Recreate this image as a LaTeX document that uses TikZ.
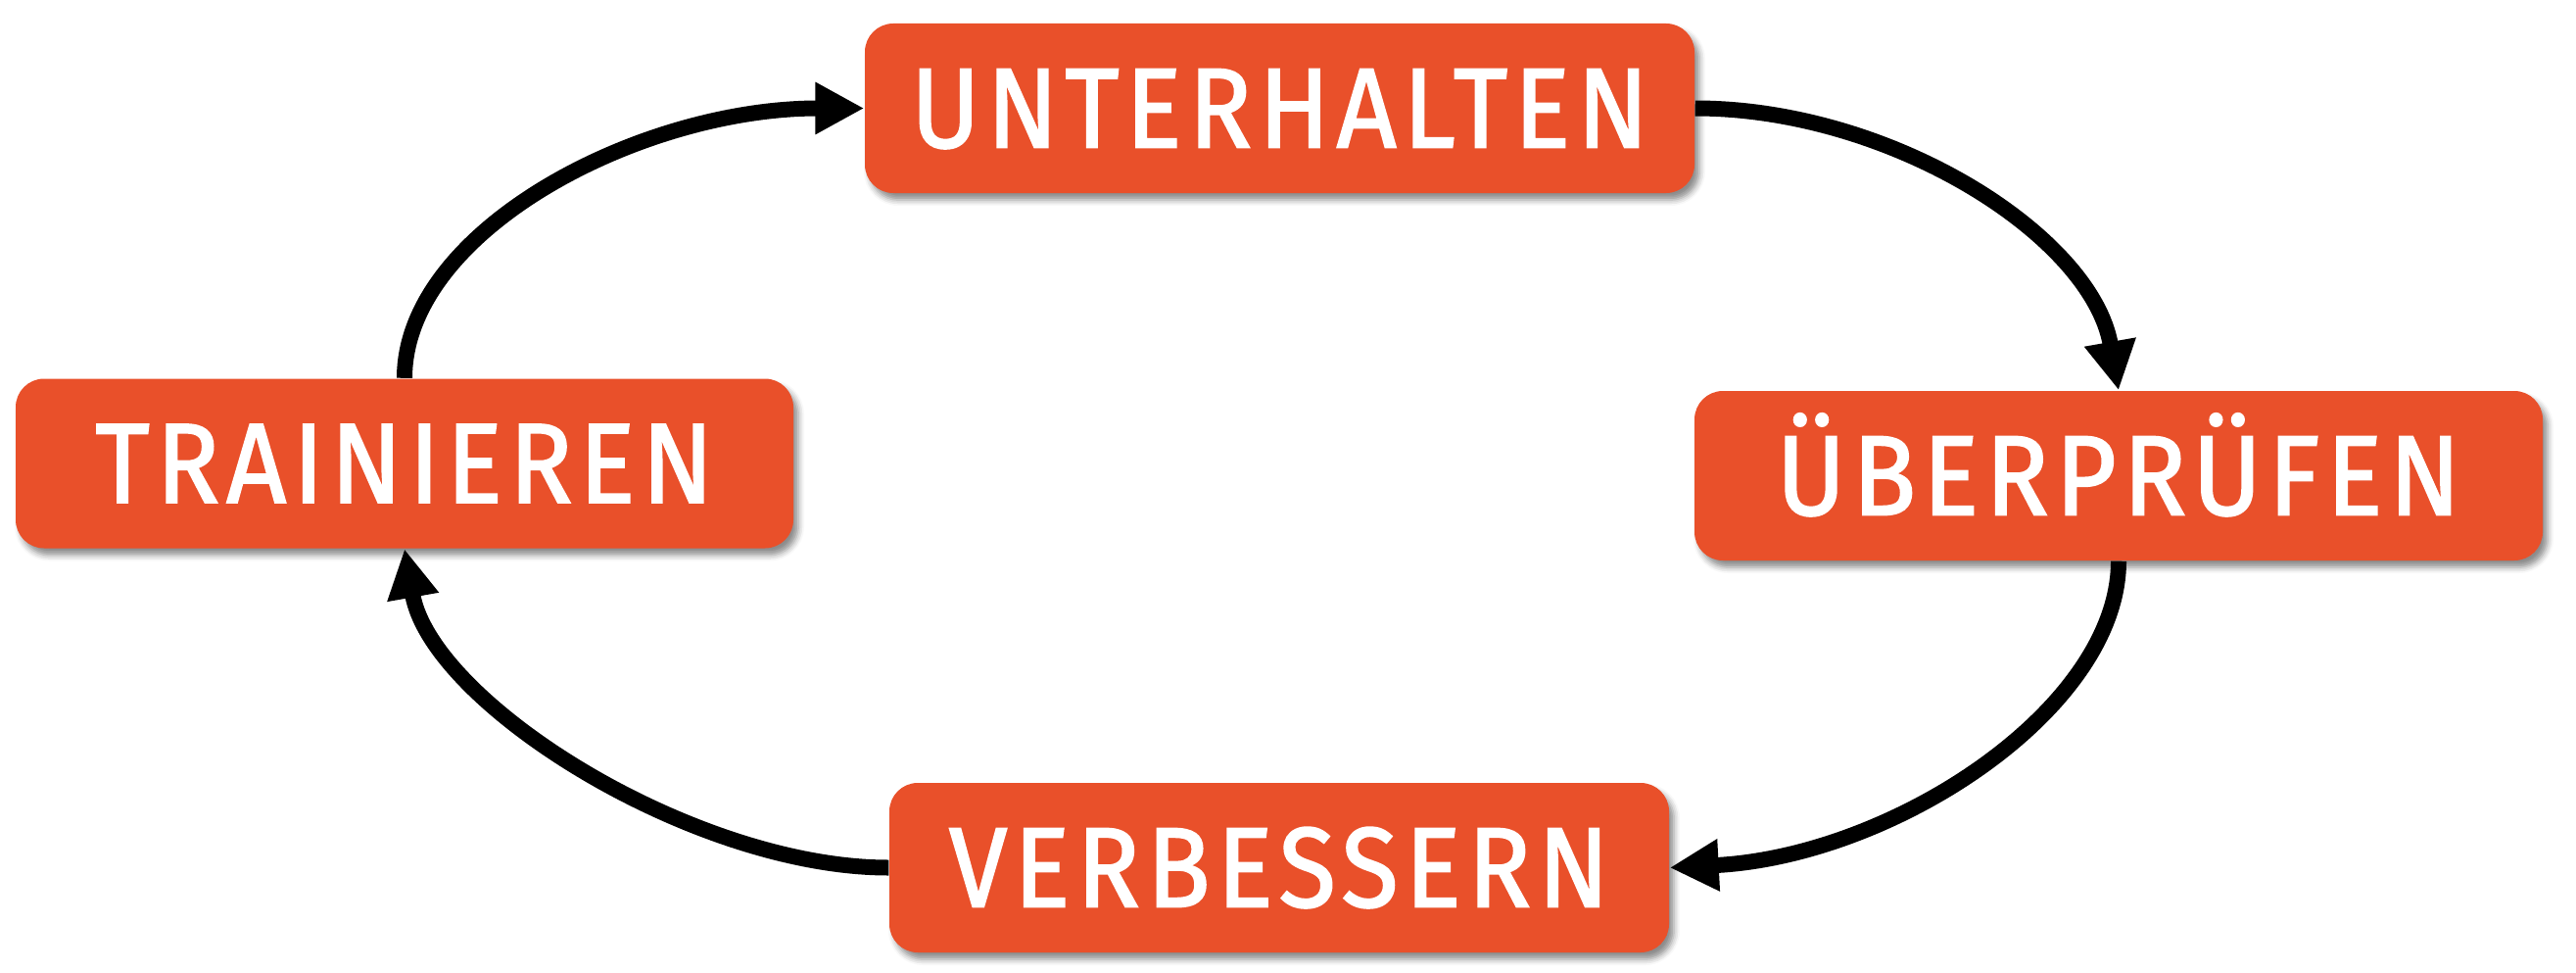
\documentclass[tikz,border=0pt]{standalone}
\usepackage{fontspec}
\setmainfont{Fira Sans}
\newfontfamily\stagefont[FakeStretch=0.92,LetterSpace=6,FakeBold=1.6]{Fira Sans}
\usepackage{xcolor}
\usetikzlibrary{arrows.meta,shadows.blur}
\definecolor{stageorange}{HTML}{E9502A}

\begin{document}
\begin{tikzpicture}[
    stage/.style={rectangle, rounded corners=0.29cm, fill=stageorange, text=white,
        minimum height=1.73cm, inner sep=0pt, text height=0.8cm, text depth=0pt,
        font=\stagefont\fontsize{33}{33}\selectfont,
        blur shadow={shadow xshift=0.05cm, shadow yshift=-0.07cm,
            shadow blur radius=0.06cm, shadow opacity=45}},
    looparrow/.style={line width=0.16cm, -{Triangle[length=0.5cm,width=0.5cm]}}
]
    \useasboundingbox (0,0) rectangle (26.3,9.92);

    % Stages of the cycle
    \node[stage, minimum width=8.47cm] (unterhalten) at (13.065,8.815) {UNTERHALTEN};
    \node[stage, minimum width=8.66cm] (ueberpruefen) at (21.63,5.065) {ÜBERPRÜFEN};
    \node[stage, minimum width=7.96cm] (verbessern) at (13.06,1.065) {VERBESSERN};
    \node[stage, minimum width=7.94cm] (trainieren) at (4.13,5.19) {TRAINIEREN};

    % Arrows, clockwise
    \draw[looparrow] (trainieren.north) .. controls +(0,1.5) and +(-2.3,0) .. (unterhalten.west);
    \draw[looparrow] (unterhalten.east) .. controls +(2,0) and +(100:1.6) .. (ueberpruefen.north);
    \draw[looparrow] (ueberpruefen.south) .. controls +(0,-1.5) and +(3:2.3) .. (verbessern.east);
    \draw[looparrow] (verbessern.west) .. controls +(-2,0) and +(280:1.6) .. (trainieren.south);
\end{tikzpicture}
\end{document}
